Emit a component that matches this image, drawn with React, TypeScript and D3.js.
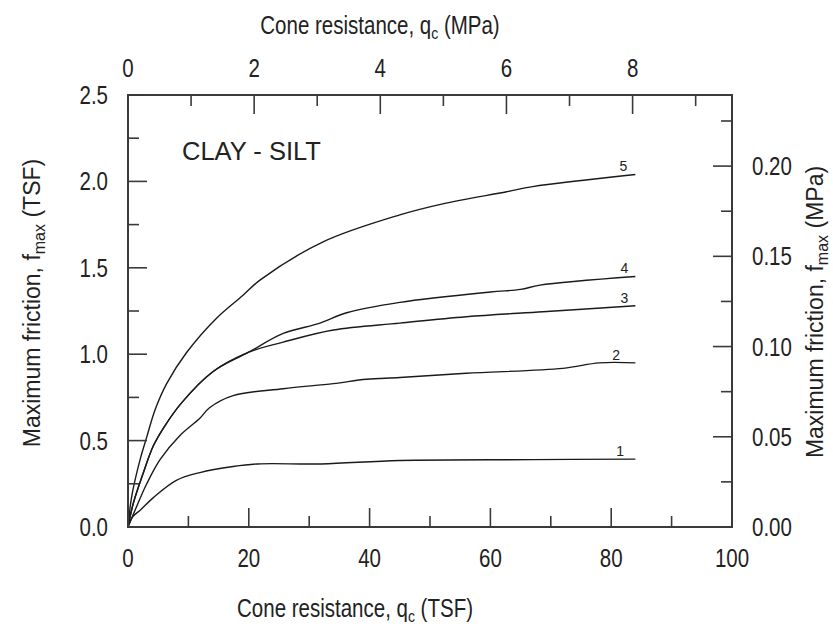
import * as d3 from 'd3';
import React from 'react';

// TSF -> MPa
const TSF_TO_MPA = 0.09576;

const curveNames = ['1', '2', '3', '4', '5'];

// cone resistance qc (TSF) and max friction fmax (TSF)
const qc1 = [0, 0.8, 2.1, 4.2, 8, 11.9, 17.4, 21.5, 32, 45, 67, 84];
const fs1 = [0, 0.06, 0.1, 0.17, 0.27, 0.315, 0.35, 0.365, 0.365, 0.385, 0.39, 0.393];

const qc2 = [0, 1.2, 3.1, 5.3, 8.6, 11.9, 13.5, 17.4, 25.7, 34, 39.5, 45, 56, 72, 78, 84];
const fs2 = [0, 0.1, 0.25, 0.39, 0.53, 0.63, 0.69, 0.76, 0.8, 0.83, 0.855, 0.865, 0.89, 0.918, 0.95, 0.95];

const qc3 = [0, 0.9, 2.5, 4.2, 6, 8.9, 14.1, 19.9, 25.7, 34, 45, 56, 68.7, 84];
const fs3 = [0, 0.14, 0.31, 0.47, 0.58, 0.72, 0.9, 1.01, 1.07, 1.14, 1.18, 1.217, 1.246, 1.28];

const qc4 = [0, 0.9, 2.5, 4.2, 6, 8.9, 14.1, 19.9, 25.7, 31.8, 36.2, 45, 60, 65, 68.2, 84];
const fs4 = [0, 0.14, 0.31, 0.47, 0.58, 0.72, 0.9, 1.01, 1.12, 1.18, 1.24, 1.3, 1.36, 1.375, 1.4, 1.45];

const qc5 = [0, 0.6, 2, 3.1, 4.5, 6.4, 9.7, 14.7, 19, 21.9, 32.3, 45, 52.1, 62.7, 67, 84];
const fs5 = [0, 0.175, 0.39, 0.52, 0.68, 0.83, 1.01, 1.21, 1.34, 1.43, 1.65, 1.806, 1.87, 1.94, 1.97, 2.04];

const qcSeries = [qc1, qc2, qc3, qc4, qc5];
const fsSeries = [fs1, fs2, fs3, fs4, fs5];
// where the curve number sits (qc, TSF)
const labelQc = [81.5, 80.8, 82.2, 82.2, 82];

const bottomTicks = [0, 20, 40, 60, 80, 100];
const bottomMinor = [10, 30, 50, 70, 90];
const topTicks = [0, 2, 4, 6, 8];
const topMinor = [1, 3, 5, 7, 9];
const leftTicks = [0, 0.5, 1.0, 1.5, 2.0, 2.5];
const leftMinor = [0.25, 0.75, 1.25, 1.75, 2.25];
const rightTicks = [0, 0.05, 0.1, 0.15, 0.2];
const rightMinor = [0.025, 0.075, 0.125, 0.175, 0.225];

const W = 833;
const H = 626;
const left = 128, right = 732, top = 95, bottom = 527;
const MAJ = 19, MIN = 11;
const axisColor = '#3a3a3a';
const font = 'Liberation Sans, Arial, sans-serif';
const NARROW = 0.82;

const App = () => {
  const x = d3.scaleLinear().domain([0, 100]).range([left, right]);
  const y = d3.scaleLinear().domain([0, 2.5]).range([bottom, top]);
  const xTop = d3.scaleLinear().domain([0, 100 * TSF_TO_MPA]).range([left, right]);
  const yRight = d3.scaleLinear().domain([0, 2.5 * TSF_TO_MPA]).range([bottom, top]);

  const line = d3.line<[number, number]>()
    .x(d => x(d[0]))
    .y(d => y(d[1]))
    .curve(d3.curveCatmullRom.alpha(0.5));

  const narrowText = (tx: number, ty: number, content: React.ReactNode, size: number, anchor = 'middle', key?: any) => (
    <text key={key} transform={`translate(${tx},${ty}) scale(${NARROW},1)`} textAnchor={anchor}
      fontSize={size} fontFamily={font} fill="#222">{content}</text>
  );

  return (
    <svg width={W} height={H} style={{ position: 'absolute', left: 0, top: 0, background: '#fff' }}>
      {/* curves */}
      {qcSeries.map((qc, i) => (
        <path key={'c' + i} d={line(qc.map((v, j) => [v, fsSeries[i][j]]) as [number, number][]) || ''}
          fill="none" stroke="#1a1a1a" strokeWidth={1.4} />
      ))}
      {qcSeries.map((qc, i) => (
        <text key={'l' + i} x={x(labelQc[i])} y={y(fsSeries[i][fsSeries[i].length - 1]) - 3}
          textAnchor="middle" fontSize={14} fontFamily={font} fill="#222">{curveNames[i]}</text>
      ))}

      {/* frame */}
      <rect x={left} y={top} width={right - left} height={bottom - top} fill="none" stroke={axisColor} strokeWidth={2} />

      {/* bottom ticks */}
      {bottomTicks.map(t => <line key={'bt' + t} x1={x(t)} x2={x(t)} y1={bottom} y2={bottom - MAJ} stroke={axisColor} strokeWidth={1.6} />)}
      {bottomMinor.map(t => <line key={'bm' + t} x1={x(t)} x2={x(t)} y1={bottom} y2={bottom - MIN} stroke={axisColor} strokeWidth={1.6} />)}
      {bottomTicks.map(t => narrowText(x(t), 567, String(t), 25, 'middle', 'btl' + t))}

      {/* top ticks */}
      {topTicks.map(t => <line key={'tt' + t} x1={xTop(t)} x2={xTop(t)} y1={top} y2={top + MAJ} stroke={axisColor} strokeWidth={1.6} />)}
      {topMinor.map(t => <line key={'tm' + t} x1={xTop(t)} x2={xTop(t)} y1={top} y2={top + MIN} stroke={axisColor} strokeWidth={1.6} />)}
      {topTicks.map(t => narrowText(xTop(t), 77, String(t), 25, 'middle', 'ttl' + t))}

      {/* left ticks */}
      {leftTicks.map(t => <line key={'lt' + t} x1={left} x2={left + MAJ} y1={y(t)} y2={y(t)} stroke={axisColor} strokeWidth={1.6} />)}
      {leftMinor.map(t => <line key={'lm' + t} x1={left} x2={left + MIN} y1={y(t)} y2={y(t)} stroke={axisColor} strokeWidth={1.6} />)}
      {leftTicks.map(t => narrowText(108, y(t) + 9, t.toFixed(1), 25, 'end', 'ltl' + t))}

      {/* right ticks */}
      {rightTicks.map(t => <line key={'rt' + t} x1={right} x2={right - MAJ} y1={yRight(t)} y2={yRight(t)} stroke={axisColor} strokeWidth={1.6} />)}
      {rightMinor.map(t => <line key={'rm' + t} x1={right} x2={right - MIN} y1={yRight(t)} y2={yRight(t)} stroke={axisColor} strokeWidth={1.6} />)}
      {rightTicks.map(t => narrowText(752, yRight(t) + 9, t.toFixed(2), 25, 'start', 'rtl' + t))}

      {/* axis titles */}
      {narrowText(380, 34, <>Cone resistance, q<tspan fontSize={17} dy={5}>c</tspan><tspan dy={-5}> (MPa)</tspan></>, 25)}
      {narrowText(355, 617, <>Cone resistance, q<tspan fontSize={17} dy={5}>c</tspan><tspan dy={-5}> (TSF)</tspan></>, 25)}
      <text transform={`translate(40,303) rotate(-90)`} textAnchor="middle" fontSize={23} fontFamily={font} fill="#222">
        Maximum friction, f<tspan fontSize={16} dy={5}>max</tspan><tspan dy={-5}> (TSF)</tspan>
      </text>
      <text transform={`translate(823,312) rotate(-90)`} textAnchor="middle" fontSize={23} fontFamily={font} fill="#222">
        Maximum friction, f<tspan fontSize={16} dy={5}>max</tspan><tspan dy={-5}> (MPa)</tspan>
      </text>

      <text x={182} y={160} fontSize={25.5} fontFamily={font} fill="#222">CLAY - SILT</text>
    </svg>
  );
};

export default App;
